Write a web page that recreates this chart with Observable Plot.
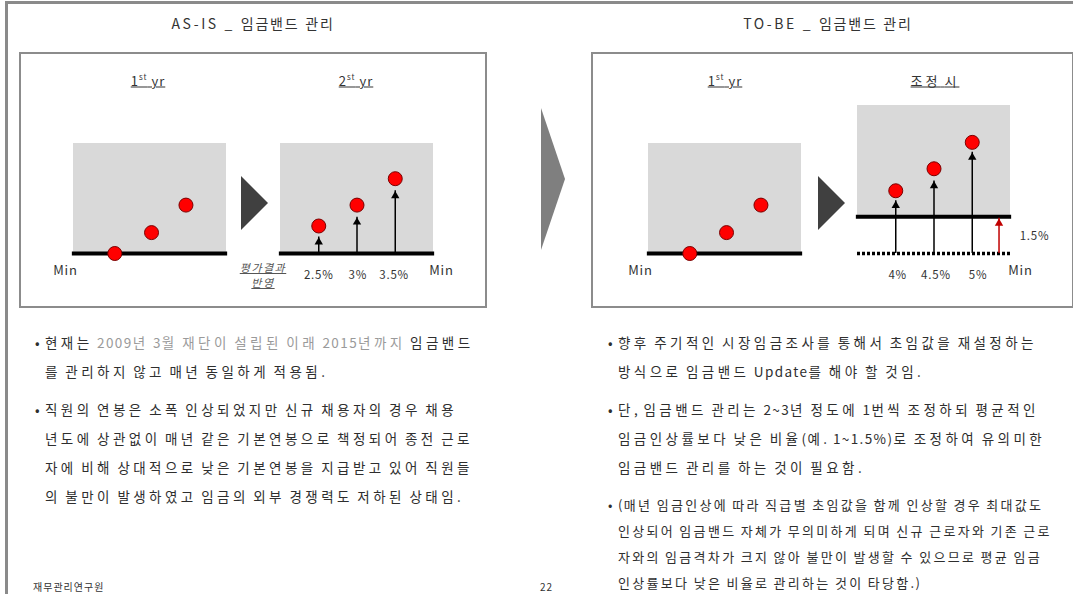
<!DOCTYPE html>
<html><head><meta charset="utf-8">
<script src="https://cdn.jsdelivr.net/npm/d3@7"></script>
<script src="https://cdn.jsdelivr.net/npm/@observablehq/plot@0.6"></script>
<style>
html,body{margin:0;padding:0;background:#fff;}
#page{position:relative;width:1073px;height:594px;overflow:hidden;background:#fff;font-family:"Noto Sans CJK KR","Noto Sans",sans-serif;color:#333;}
.abs{position:absolute;}
.frameTop{left:5px;top:1px;width:1068px;height:3px;background:#8a8a8a;}
.frameLeft{left:5px;top:1px;width:3px;height:600px;background:#8a8a8a;}
.box{border:2px solid #8c8c8c;box-sizing:border-box;}
.sp{letter-spacing:var(--k);}
.sp .a{letter-spacing:var(--a);}
.title{font-size:14px;color:#333;white-space:nowrap;transform:translate(-50%,-50%);--k:1.8px;--a:2.6px;}
.head{font-size:13px;color:#333;white-space:nowrap;transform:translate(-50%,-50%);text-decoration:underline;--k:3px;--a:1px;}
.head sup{font-size:8px;}
.para{font-size:13.5px;line-height:29px;white-space:nowrap;color:#2e2e2e;--k:3.45px;--a:1.4px;}
.para .b{position:absolute;left:-10px;letter-spacing:0;}
.light{color:#9a9a9a;}
.note{font-size:11px;font-style:italic;text-decoration:underline;color:#555;text-align:center;line-height:15px;transform:translate(-50%,0);--k:1.5px;--a:1px;}
.foot{font-size:10px;color:#333;line-height:13px;--k:1px;--a:1px;}
.plot{position:absolute;}
</style></head>
<body><div id="page">
<div class="abs frameTop"></div>
<div class="abs frameLeft"></div>

<div class="abs title sp" style="left:253px;top:23px;">AS-IS _ 임금밴드 관리</div>
<div class="abs title sp" style="left:828px;top:23px;">TO-BE _ 임금밴드 관리</div>

<div class="abs box" style="left:19px;top:52px;width:468px;height:256px;"></div>
<div class="abs box" style="left:591px;top:52px;width:483px;height:256px;"></div>

<div class="abs head sp" style="left:148px;top:80px;">1<sup>st</sup> yr</div>
<div class="abs head sp" style="left:356px;top:80px;">2<sup>st</sup> yr</div>
<div class="abs head sp" style="left:725px;top:80px;">1<sup>st</sup> yr</div>
<div class="abs head sp" style="left:935px;top:80px;">조정 시</div>

<!-- big chevron between sections -->
<div class="abs" style="left:541px;top:108px;width:0;height:0;border-left:24px solid #7f7f7f;border-top:71px solid transparent;border-bottom:71px solid transparent;"></div>
<!-- small transition triangles -->
<div class="abs" style="left:241px;top:176px;width:0;height:0;border-left:27px solid #404040;border-top:27px solid transparent;border-bottom:27px solid transparent;"></div>
<div class="abs" style="left:818px;top:176px;width:0;height:0;border-left:27px solid #404040;border-top:27px solid transparent;border-bottom:27px solid transparent;"></div>

<div class="abs note sp" style="left:263px;top:260px;">평가결과<br>반영</div>

<div class="abs para sp" style="left:45px;top:328px;"><span class="b">•</span>현재는 <span class="light">2009년 3월 재단이 설립된 이래 2015년까지</span> 임금밴드<br>를 관리하지 않고 매년 동일하게 적용됨.</div>
<div class="abs para sp" style="left:45px;top:395px;"><span class="b">•</span>직원의 연봉은 소폭 인상되었지만 신규 채용자의 경우 채용<br>년도에 상관없이 매년 같은 기본연봉으로 책정되어 종전 근로<br>자에 비해 상대적으로 낮은 기본연봉을 지급받고 있어 직원들<br>의 불만이 발생하였고 임금의 외부 경쟁력도 저하된 상태임.</div>

<div class="abs para sp" style="left:618px;top:328px;"><span class="b">•</span>향후 주기적인 시장임금조사를 통해서 초임값을 재설정하는<br>방식으로 임금밴드 Update를 해야 할 것임.</div>
<div class="abs para sp" style="left:618px;top:395px;"><span class="b">•</span>단, 임금밴드 관리는 2~3년 정도에 1번씩 조정하되 평균적인<br>임금인상률보다 낮은 비율(예. 1~1.5%)로 조정하여 유의미한<br>임금밴드 관리를 하는 것이 필요함.</div>
<div class="abs para sp" style="left:618px;top:492px;line-height:26px;font-size:13px;--k:2.3px;"><span class="b">•</span>(매년 임금인상에 따라 직급별 초임값을 함께 인상할 경우 최대값도<br>인상되어 임금밴드 자체가 무의미하게 되며 신규 근로자와 기존 근로<br>자와의 임금격차가 크지 않아 불만이 발생할 수 있으므로 평균 임금<br>인상률보다 낮은 비율로 관리하는 것이 타당함.)</div>

<div class="abs foot sp" style="left:33px;top:580px;">재무관리연구원</div>
<div class="abs foot sp" style="left:540px;top:580px;">22</div>
</div>
<script>
// ---- data (salary index units; band minimum = 0) ----
const employeeRank = [1, 2, 3];
const firstYearX = [1.08, 2.04, 2.94];
const bandRange = [0, 4];
const asIsBandLow = 0, asIsBandHigh = 10;
const firstYearSalary = [0, 1.9, 4.4];
const asIsSecondYearSalary = [2.5, 4.4, 6.8];
const asIsRaiseTips = [1.5, 3.3, 5.7];
const asIsRates = ["2.5%", "3%", "3.5%"];
const asIsRateX = [1, 2.02, 2.97];
const toBeBandLow = 3.4, toBeBandHigh = 13.45;
const toBeNewMin = 3.35;
const toBeAdjustedSalary = [5.7, 7.7, 10.1];
const toBeRaiseTips = [4.8, 6.6, 9.2];
const toBeRates = ["4%", "4.5%", "5%"];
const toBeRateX = [1.05, 2.05, 3.15];
const minShiftRate = "1.5%";
const minShiftTip = 3.2;
const minShiftX = 3.7;

// split Korean / ASCII runs so each can get its own letter spacing
function wrapAscii(el) {
  const walker = document.createTreeWalker(el, NodeFilter.SHOW_TEXT);
  const nodes = [];
  while (walker.nextNode()) nodes.push(walker.currentNode);
  for (const n of nodes) {
    if (n.parentNode.classList && n.parentNode.classList.contains("b")) continue;
    const parts = n.nodeValue.split(/([\x00-\x7F]+)/);
    if (parts.length < 2) continue;
    const frag = document.createDocumentFragment();
    for (const p of parts) {
      if (!p) continue;
      if (/^[\x00-\x7F]+$/.test(p)) {
        const s = document.createElement("span");
        s.className = "a"; s.textContent = p; frag.appendChild(s);
      } else frag.appendChild(document.createTextNode(p));
    }
    n.parentNode.replaceChild(frag, n);
  }
}
document.querySelectorAll(".sp").forEach(wrapAscii);

const FONT = '"Noto Sans CJK KR","Noto Sans",sans-serif';
const PX = 11; // pixels per salary unit
const idx = [0, 1, 2];

function panel({yMax, ml, mr, marks}) {
  return Plot.plot({
    width: 153 + ml + mr,
    height: Math.round(2 + 30 + yMax * PX),
    marginLeft: ml, marginRight: mr, marginTop: 2, marginBottom: 30,
    x: {domain: bandRange, axis: null},
    y: {domain: [0, yMax], axis: null},
    style: {fontFamily: FONT, background: "transparent", overflow: "visible", letterSpacing: "0.8px"},
    marks
  });
}
function band(lo, hi) {
  return Plot.rect([0], {x1: bandRange[0], x2: bandRange[1], y1: lo, y2: hi, fill: "#d9d9d9"});
}
function thick(y) {
  return Plot.ruleY([y], {x1: bandRange[0] - 0.03, x2: bandRange[1] + 0.03, stroke: "#000", strokeWidth: 4});
}
function dots(xs, values) {
  return Plot.dot(idx, {x: i => xs[i], y: i => values[i], r: 7, fill: "#ff0000", stroke: "#7a0000", strokeWidth: 1});
}
function arrows(from, tips, color = "#000") {
  return [
    Plot.ruleX(idx, {x: i => employeeRank[i], y1: from, y2: i => tips[i], stroke: color, strokeWidth: 1.5}),
    Plot.dot(idx, {x: i => employeeRank[i], y: i => tips[i], symbol: "triangle", r: 3.1, fill: color, stroke: "none", dy: 5})
  ];
}
function minLabel(x, dx) {
  return Plot.text(["Min"], {x, y: 0, dx, dy: 17, text: d => d, fontSize: 13, fill: "#333"});
}
function rateLabels(labels, xs) {
  return Plot.text(idx, {x: i => xs[i], y: 0, dy: 22, text: i => labels[i], fontSize: 11.5, fill: "#333"});
}
function place(el, left, top) {
  el.classList.add("plot");
  el.style.left = left + "px";
  el.style.top = top + "px";
  document.getElementById("page").appendChild(el);
}

// Panel 1: AS-IS 1st yr
place(panel({yMax: 10, ml: 25, mr: 25, marks: [
  band(asIsBandLow, asIsBandHigh), thick(0), dots(firstYearX, firstYearSalary), minLabel(0, -8)
]}), 73 - 25, 253 - 112);

// Panel 2: AS-IS 2nd yr
place(panel({yMax: 10, ml: 25, mr: 25, marks: [
  band(asIsBandLow, asIsBandHigh), thick(0), ...arrows(0, asIsRaiseTips),
  dots(employeeRank, asIsSecondYearSalary), rateLabels(asIsRates, asIsRateX), minLabel(4, 8)
]}), 280 - 25, 253 - 112);

// Panel 3: TO-BE 1st yr
place(panel({yMax: 10, ml: 25, mr: 25, marks: [
  band(asIsBandLow, asIsBandHigh), thick(0), dots(firstYearX, firstYearSalary), minLabel(0, -8)
]}), 648 - 25, 253 - 112);

// Panel 4: TO-BE adjusted
place(panel({yMax: toBeBandHigh, ml: 25, mr: 45, marks: [
  band(toBeBandLow, toBeBandHigh),
  Plot.ruleY([0], {x1: bandRange[0], x2: bandRange[1], stroke: "#000", strokeWidth: 3.5, strokeDasharray: "3 2"}),
  thick(toBeNewMin),
  ...arrows(0, toBeRaiseTips),
  Plot.ruleX([minShiftX], {y1: 0, y2: minShiftTip, stroke: "#c00000", strokeWidth: 1.5}),
  Plot.dot([minShiftX], {x: d => d, y: minShiftTip, symbol: "triangle", r: 3.1, fill: "#c00000", dy: 5}),
  dots(employeeRank, toBeAdjustedSalary),
  rateLabels(toBeRates, toBeRateX),
  minLabel(4, 10),
  Plot.text([minShiftRate], {x: 4, y: minShiftTip / 2, dx: 24, text: d => d, fontSize: 11.5, fill: "#333"})
]}), 857 - 25, 253 - Math.round(2 + toBeBandHigh * PX));
</script>
</body></html>
